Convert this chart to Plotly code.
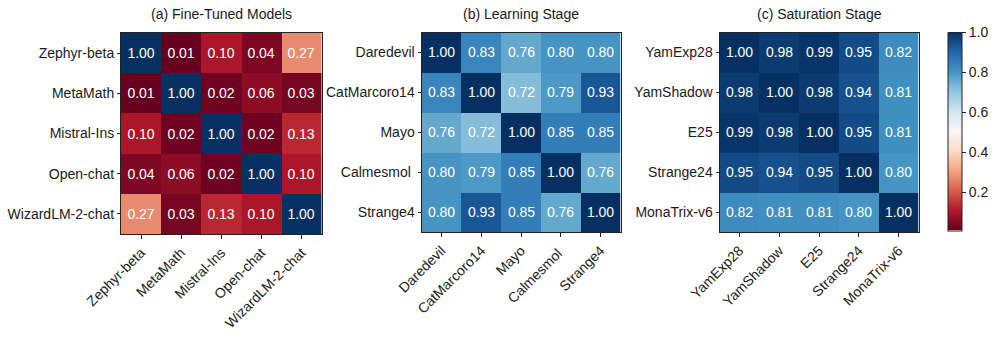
import plotly.graph_objects as go

# ---- data ----
labels_a = ["Zephyr-beta", "MetaMath", "Mistral-Ins", "Open-chat", "WizardLM-2-chat"]
values_a = [
    [1.00, 0.01, 0.10, 0.04, 0.27],
    [0.01, 1.00, 0.02, 0.06, 0.03],
    [0.10, 0.02, 1.00, 0.02, 0.13],
    [0.04, 0.06, 0.02, 1.00, 0.10],
    [0.27, 0.03, 0.13, 0.10, 1.00],
]
labels_b = ["Daredevil", "CatMarcoro14", "Mayo", "Calmesmol\u00a0", "Strange4"]
values_b = [
    [1.00, 0.83, 0.76, 0.80, 0.80],
    [0.83, 1.00, 0.72, 0.79, 0.93],
    [0.76, 0.72, 1.00, 0.85, 0.85],
    [0.80, 0.79, 0.85, 1.00, 0.76],
    [0.80, 0.93, 0.85, 0.76, 1.00],
]
labels_c = ["YamExp28", "YamShadow", "E25", "Strange24", "MonaTrix-v6"]
values_c = [
    [1.00, 0.98, 0.99, 0.95, 0.82],
    [0.98, 1.00, 0.98, 0.94, 0.81],
    [0.99, 0.98, 1.00, 0.95, 0.81],
    [0.95, 0.94, 0.95, 1.00, 0.80],
    [0.82, 0.81, 0.81, 0.80, 1.00],
]
titles = ["(a) Fine-Tuned Models", "(b) Learning Stage", "(c) Saturation Stage"]
cbar_ticks = [0.2, 0.4, 0.6, 0.8, 1.0]
zmin, zmax = 0.01, 1.0

# matplotlib RdBu (ColorBrewer 11)
rdbu = ["#67001f", "#b2182b", "#d6604d", "#f4a582", "#fddbc7", "#f7f7f7",
        "#d1e5f0", "#92c5de", "#4393c3", "#2166ac", "#053061"]
colorscale = [[i / (len(rdbu) - 1), c] for i, c in enumerate(rdbu)]

W, H = 997, 341
FONT = "Liberation Sans, Arial, sans-serif"
TXT = "#1a1a1a"


def px(v):
    return v / W


def py(v):
    return 1 - v / H


# pixel boxes of the three heatmaps (left, right, top, bottom)
boxes = [(121, 321.5, 33, 234), (421.5, 620.5, 32.5, 232), (719.5, 918.5, 32.5, 232)]

fig = go.Figure()
panels = [(labels_a, values_a), (labels_b, values_b), (labels_c, values_c)]
for i, ((labs, vals), box) in enumerate(zip(panels, boxes)):
    sfx = "" if i == 0 else str(i + 1)
    tr = go.Heatmap(
        z=vals, x=labs, y=labs,
        colorscale=colorscale, zmin=zmin, zmax=zmax,
        texttemplate="%{z:.2f}",
        textfont=dict(color="white", size=14, family=FONT),
        xaxis="x" + sfx, yaxis="y" + sfx,
        showscale=(i == 2),
        xgap=0, ygap=0,
    )
    if i == 2:
        tr.colorbar = dict(
            x=px(947.5), xanchor="left", xref="paper",
            y=py(131.5), yanchor="middle",
            thicknessmode="pixels", thickness=14,
            lenmode="pixels", len=198,
            outlinewidth=1, outlinecolor="#222",
            tickvals=cbar_ticks, ticktext=[f"{t:.1f}" for t in cbar_ticks],
            ticks="outside", ticklen=4, tickcolor="#222",
            tickfont=dict(size=14, family=FONT, color=TXT),
            xpad=0, ypad=0,
        )
    fig.add_trace(tr)
    l, r, t, b = box
    common = dict(showline=True, linecolor="#222", linewidth=1, mirror=True,
                  ticks="outside", tickcolor="#222",
                  tickfont=dict(size=14, family=FONT, color=TXT),
                  showgrid=False, zeroline=False, type="category",
                  automargin=False)
    fig.layout["xaxis" + sfx] = dict(domain=[px(l), px(r)], anchor="y" + sfx,
                                     tickangle=-45, ticklen=4, **common)
    fig.layout["yaxis" + sfx] = dict(domain=[py(b), py(t)], anchor="x" + sfx,
                                     autorange="reversed", ticklen=3, **common)
    fig.add_annotation(text=titles[i], x=px((l + r) / 2), y=py(14.5),
                       xref="paper", yref="paper", showarrow=False,
                       font=dict(size=14, family=FONT, color=TXT),
                       xanchor="center", yanchor="middle")

fig.update_layout(width=W, height=H,
                  margin=dict(l=0, r=0, t=0, b=0, pad=0, autoexpand=False),
                  paper_bgcolor="white", plot_bgcolor="white", showlegend=False)
fig.write_html("out.html", config={"displayModeBar": False},
               post_script="document.body.style.margin='0';document.body.style.overflow='hidden';")
